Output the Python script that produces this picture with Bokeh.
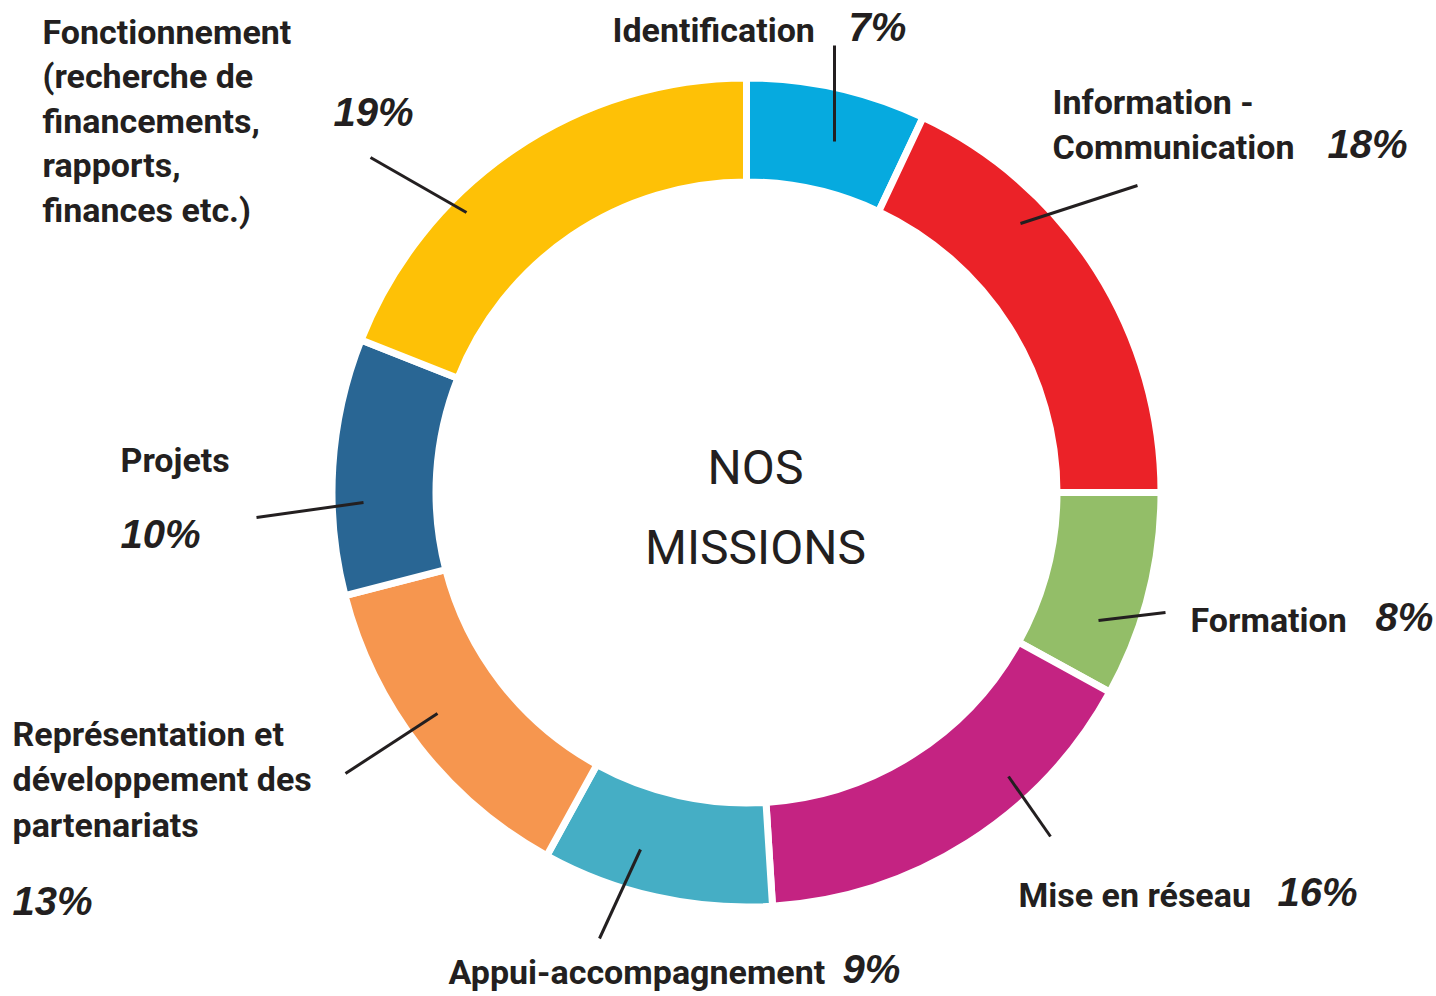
import numpy as np
from bokeh.plotting import figure
from bokeh.models import Range1d, ColumnDataSource
from bokeh.core.properties import value
from bokeh.embed import file_html
from bokeh.resources import INLINE

W, H = 1436, 996

# ---- data ----
categories = [
    "Identification",
    "Information -\nCommunication",
    "Formation",
    "Mise en réseau",
    "Appui-accompagnement",
    "Représentation et\ndéveloppement des\npartenariats",
    "Projets",
    "Fonctionnement\n(recherche de\nfinancements,\nrapports,\nfinances etc.)",
]
shares = [7, 18, 8, 16, 9, 13, 10, 19]
colors = ["#06AADF", "#EB2228", "#93BE68", "#C42382",
          "#45AEC5", "#F6964F", "#296694", "#FEC106"]
center_title = ["NOS", "MISSIONS"]

# ---- layout (pixel coordinates measured from the top-left) ----
CX, CY = 746, 492
R_OUT, R_IN = 411, 314
GAP = 7
label_x = [612, 1052, 1190, 1018, 448, 12, 120, 42]
label_y = [43, 115, 633, 908, 985, 747, 473, 45]
line_h = [45, 45, 45, 45, 45, 45.5, 45, 44.5]
pct_x = [848, 1327, 1375, 1277, 842, 12, 120, 333]
pct_y = [43, 160, 633, 908, 985, 917, 550, 128]
lead_x0 = [834, 1020, 1098, 1008, 640, 437, 363, 466]
lead_y0 = [141, 223, 620, 776, 849, 713, 502, 212]
lead_x1 = [834, 1137, 1165, 1050, 599, 345, 256, 370]
lead_y1 = [45, 185, 612, 836, 938, 773, 517, 157]

TEXT = "#231F20"
LABEL_SIZE, PCT_SIZE, TITLE_SIZE = 34, 40, 48


def fix(size):
    # the svg text is drawn lower than its anchor by ~0.41 em
    return 0.41 * size


def fy(v):
    return H - np.asarray(v, dtype=float)


p = figure(width=W, height=H, output_backend="svg", toolbar_location=None,
           x_range=Range1d(0, W), y_range=Range1d(0, H),
           min_border=0, border_fill_color="white")
p.axis.visible = False
p.grid.visible = False
p.outline_line_color = None

# donut
frac = np.array(shares, dtype=float) / sum(shares)
cum = np.concatenate([[0], np.cumsum(frac)])
start = np.pi / 2 - 2 * np.pi * cum[:-1]
end = np.pi / 2 - 2 * np.pi * cum[1:]
wsrc = ColumnDataSource(dict(x=[CX] * len(shares), y=list(fy([CY] * len(shares))),
                             start=start, end=end, color=colors))
p.annular_wedge(x="x", y="y", inner_radius=R_IN - GAP / 2, outer_radius=R_OUT + GAP / 2,
                start_angle="start", end_angle="end", direction="clock",
                fill_color="color", line_color="white", line_width=GAP, source=wsrc)

# leader lines
p.segment(x0=lead_x0, y0=list(fy(lead_y0)), x1=lead_x1, y1=list(fy(lead_y1)),
          line_color=TEXT, line_width=3)

# category labels (one glyph per line)
tx, ty, tt = [], [], []
for cat, x, y, lh in zip(categories, label_x, label_y, line_h):
    for i, line in enumerate(cat.split("\n")):
        tx.append(x)
        ty.append(H - (y + i * lh) + fix(LABEL_SIZE))
        tt.append(line)
p.text(x=tx, y=ty, text=tt, text_font=value("Roboto"),
       text_font_style="bold", text_font_size=f"{LABEL_SIZE}px", text_color=TEXT,
       text_align="left", text_baseline="alphabetic")

# percentages
pct_txt = [f"{s}%" for s in shares]
p.text(x=pct_x, y=list(fy(pct_y) + fix(PCT_SIZE)), text=pct_txt,
       text_font=value("Liberation Sans"),
       text_font_style="bold italic", text_font_size=f"{PCT_SIZE}px", text_color=TEXT,
       text_align="left", text_baseline="alphabetic")

# centre title
p.text(x=[755, 755], y=list(fy([487, 567]) + fix(TITLE_SIZE)), text=center_title,
       text_font=value("Roboto"), text_font_size=f"{TITLE_SIZE}px",
       text_color=TEXT, text_align="center", text_baseline="alphabetic")

open("out.html", "w").write(file_html(p, INLINE))
